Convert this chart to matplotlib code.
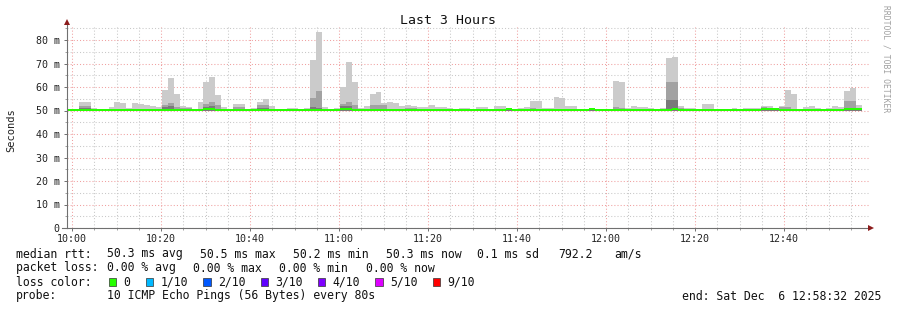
import numpy as np
import matplotlib
matplotlib.use("Agg")
import matplotlib.pyplot as plt
from matplotlib.patches import Rectangle
from matplotlib.lines import Line2D

# ---------------- data ----------------
step_len_min = 80 / 60.0          # 80 s probe interval
first_step_min = -1.12            # first step start, minutes relative to 10:00

ping_max = [
    50.6, 50.6, 53.6, 53.6, 51.1, 50.6, 50.6, 51.5, 53.6, 53.2,
    51.1, 53.2, 52.8, 52.3, 51.9, 51.5, 58.7, 63.8, 57.0, 51.9,
    51.5, 50.8, 53.6, 62.1, 64.3, 56.6, 51.5, 50.6, 52.8, 52.8,
    50.6, 51.1, 53.6, 54.9, 51.9, 50.6, 50.6, 51.1, 51.1, 50.6,
    51.1, 71.5, 83.4, 51.5, 50.6, 51.1, 60.0, 70.6, 62.1, 51.1,
    51.9, 57.0, 57.9, 53.2, 53.6, 53.2, 51.9, 52.3, 51.9, 51.5,
    51.5, 52.3, 51.5, 51.5, 51.1, 50.6, 51.1, 51.1, 50.6, 51.5,
    51.5, 50.6, 51.9, 51.9, 50.8, 50.6, 51.1, 51.5, 54.0, 54.0,
    51.1, 51.1, 55.7, 55.3, 51.9, 51.9, 50.8, 50.8, 50.8, 50.6,
    50.6, 50.6, 62.6, 62.1, 51.1, 51.9, 51.5, 51.5, 51.1, 50.6,
    51.1, 72.3, 72.8, 51.9, 51.1, 51.1, 50.6, 52.8, 52.8, 50.6,
    50.6, 50.6, 51.1, 50.6, 51.1, 51.1, 51.1, 51.9, 51.9, 50.8,
    51.9, 58.7, 57.0, 50.6, 51.5, 51.9, 51.1, 50.6, 51.1, 51.9,
    51.5, 58.3, 59.6, 52.3,
]

ping_mid = [
    50.4, 50.4, 51.9, 51.9, 50.4, 50.4, 50.4, 50.4, 50.4, 50.4,
    50.4, 50.4, 50.4, 50.4, 50.4, 50.4, 52.3, 53.2, 51.5, 51.1,
    51.1, 50.4, 50.4, 52.8, 53.6, 52.3, 50.4, 50.4, 51.5, 51.5,
    50.4, 50.4, 52.3, 52.3, 50.4, 50.4, 50.4, 50.4, 50.4, 50.4,
    50.4, 55.3, 58.3, 50.4, 50.4, 50.4, 52.8, 53.6, 52.3, 50.4,
    50.4, 52.3, 52.3, 52.3, 50.4, 50.4, 50.4, 51.1, 51.1, 50.4,
    50.4, 50.4, 50.4, 50.4, 50.4, 50.4, 50.4, 50.4, 50.4, 50.4,
    50.4, 50.4, 50.4, 50.4, 50.4, 50.4, 50.4, 50.4, 51.1, 50.4,
    50.4, 50.4, 50.4, 50.4, 50.4, 50.4, 50.4, 50.4, 50.4, 50.4,
    50.4, 50.4, 51.5, 51.1, 50.4, 50.4, 50.4, 50.4, 50.4, 50.4,
    50.4, 62.1, 62.1, 51.1, 50.4, 50.4, 50.4, 50.4, 50.4, 50.4,
    50.4, 50.4, 50.4, 50.4, 50.4, 50.4, 50.4, 51.5, 50.4, 50.4,
    51.5, 51.5, 50.4, 50.4, 50.4, 50.4, 50.4, 50.4, 50.4, 50.4,
    50.4, 54.0, 54.0, 51.1,
]

ping_dark = [
    50.4, 50.4, 51.1, 51.1, 50.4, 50.4, 50.4, 50.4, 50.4, 50.4,
    50.4, 50.4, 50.4, 50.4, 50.4, 50.4, 51.5, 51.9, 50.4, 50.4,
    50.4, 50.4, 50.4, 51.5, 51.9, 50.4, 50.4, 50.4, 50.4, 50.4,
    50.4, 50.4, 51.1, 51.1, 50.4, 50.4, 50.4, 50.4, 50.4, 50.4,
    50.4, 51.4, 51.1, 50.4, 50.4, 50.4, 51.9, 51.9, 50.4, 50.4,
    50.4, 50.4, 50.4, 50.4, 50.4, 50.4, 50.4, 50.4, 50.4, 50.4,
    50.4, 50.4, 50.4, 50.4, 50.4, 50.4, 50.4, 50.4, 50.4, 50.4,
    50.4, 50.4, 50.4, 50.4, 50.4, 50.4, 50.4, 50.4, 50.4, 50.4,
    50.4, 50.4, 50.4, 50.4, 50.4, 50.4, 50.4, 50.4, 50.4, 50.4,
    50.4, 50.4, 50.4, 50.4, 50.4, 50.4, 50.4, 50.4, 50.4, 50.4,
    50.4, 54.5, 54.5, 50.4, 50.4, 50.4, 50.4, 50.4, 50.4, 50.4,
    50.4, 50.4, 50.4, 50.4, 50.4, 50.4, 50.4, 51.1, 50.4, 50.4,
    50.4, 50.4, 50.4, 50.4, 50.4, 50.4, 50.4, 50.4, 50.4, 50.4,
    50.4, 51.1, 51.1, 50.4,
]

median_rtt = [
    50.25, 50.25, 50.25, 50.25, 50.25, 50.25, 50.25, 50.25, 50.25, 50.25,
    50.25, 50.25, 50.25, 50.25, 50.25, 50.25, 50.25, 50.25, 50.25, 50.25,
    50.25, 50.25, 50.25, 50.6, 50.6, 50.25, 50.25, 50.25, 50.25, 50.25,
    50.25, 50.25, 50.25, 50.25, 50.25, 50.25, 50.25, 50.25, 50.25, 50.25,
    50.25, 50.25, 50.25, 50.25, 50.25, 50.25, 50.6, 50.6, 50.25, 50.25,
    50.25, 50.25, 50.25, 50.25, 50.25, 50.25, 50.25, 50.25, 50.25, 50.25,
    50.25, 50.25, 50.25, 50.25, 50.25, 50.25, 50.25, 50.25, 50.25, 50.25,
    50.25, 50.25, 50.25, 50.25, 50.6, 50.25, 50.25, 50.25, 50.25, 50.25,
    50.25, 50.25, 50.25, 50.25, 50.25, 50.25, 50.25, 50.25, 50.6, 50.25,
    50.25, 50.25, 50.25, 50.25, 50.25, 50.25, 50.25, 50.25, 50.25, 50.25,
    50.25, 50.25, 50.6, 50.25, 50.25, 50.25, 50.25, 50.25, 50.25, 50.25,
    50.25, 50.25, 50.25, 50.25, 50.25, 50.25, 50.25, 50.6, 50.6, 50.6,
    50.25, 50.25, 50.25, 50.25, 50.25, 50.25, 50.25, 50.25, 50.25, 50.25,
    50.25, 50.6, 50.6, 50.6,
]

ping_min_ms = 50.0   # lower edge of smoke (hidden under median band)

x_tick_minutes = [0, 20, 40, 60, 80, 100, 120, 140, 160]
x_tick_labels = ["10:00", "10:20", "10:40", "11:00", "11:20", "11:40", "12:00", "12:20", "12:40"]
y_tick_values = [0, 10, 20, 30, 40, 50, 60, 70, 80]
y_tick_labels = ["0", "10 m", "20 m", "30 m", "40 m", "50 m", "60 m", "70 m", "80 m"]

loss_labels = ["0", "1/10", "2/10", "3/10", "4/10", "5/10", "9/10"]
loss_colors = ["#26ff00", "#00b8ff", "#0059ff", "#5e00ff", "#7e00ff", "#dd00ff", "#ff0000"]

# ---------------- figure ----------------
W, H = 897, 310
MONO = "DejaVu Sans Mono"
fig = plt.figure(figsize=(W / 100, H / 100), dpi=100)
fig.patch.set_facecolor("white")

def fx(x):
    return x / W

def fy(y):
    return 1 - y / H

ax_l, ax_r, ax_t, ax_b = 67, 869, 25, 228
ax = fig.add_axes([fx(ax_l), fy(ax_b), (ax_r - ax_l) / W, (ax_b - ax_t) / H])
ax.set_facecolor("white")

px_per_min = 4.45
ax.set_xlim((ax_l - 72) / px_per_min, (ax_r - 72) / px_per_min)
ax.set_ylim(0, (ax_b - ax_t) / 2.35)

n = len(ping_max)
lefts = first_step_min + step_len_min * np.arange(n)
pmax = np.array(ping_max)
pmid = np.array(ping_mid)
pdark = np.array(ping_dark)
med = np.array(median_rtt)

common = dict(width=step_len_min, align="edge", linewidth=0, zorder=2)
ax.bar(lefts, pmax - ping_min_ms, bottom=ping_min_ms, color="#cbcbcb", **common)
ax.bar(lefts, pmid - ping_min_ms, bottom=ping_min_ms, color="#a2a2a2", **common)
ax.bar(lefts, pdark - ping_min_ms, bottom=ping_min_ms, color="#7a7a7a", **common)
band = 0.58
ax.bar(lefts, 2 * band, bottom=med - band, color=loss_colors[0], width=step_len_min,
       align="edge", linewidth=0, zorder=3)

# grid
ax.set_axisbelow(True)
ax.set_xticks(x_tick_minutes)
ax.set_xticklabels(x_tick_labels)
ax.set_xticks(np.arange(-0, 180, 5), minor=True)
ax.set_yticks(y_tick_values)
ax.set_yticklabels(y_tick_labels)
ax.set_yticks(np.arange(5, 90, 10), minor=True)
ax.grid(which="minor", color="#c8c8c8", linestyle=(0, (1, 2)), linewidth=0.75, zorder=0)
ax.grid(which="major", color="#f0a0a0", linestyle=(0, (1, 2)), linewidth=0.75, zorder=0)

for s in ["top", "right"]:
    ax.spines[s].set_visible(False)
for s in ["left", "bottom"]:
    ax.spines[s].set_color("#707070")
    ax.spines[s].set_linewidth(0.8)
    ax.spines[s].set_zorder(5)

ax.tick_params(which="major", length=2.2, width=0.7, color="#707070",
               labelsize=7.2, labelcolor="#222222")
ax.tick_params(which="minor", length=1.4, width=0.6, color="#909090")
ax.tick_params(axis="y", pad=3.0)
ax.tick_params(axis="x", pad=2.0)
for lab in ax.get_xticklabels() + ax.get_yticklabels():
    lab.set_family(MONO)

# axis overhang + arrows
fig.add_artist(Line2D([fx(62), fx(ax_l)], [fy(ax_b), fy(ax_b)], color="#707070", lw=0.8))
fig.add_artist(Line2D([fx(67)], [fy(22)], marker="^", markersize=4.5, color="#8c1c1c",
                      markeredgewidth=0))
fig.add_artist(Line2D([fx(871)], [fy(228)], marker=">", markersize=4.5, color="#8c1c1c",
                      markeredgewidth=0))

# titles
fig.text(fx(448), fy(20), "Last 3 Hours", ha="center", va="center", family=MONO, size=9.5,
         color="#111111")
fig.text(fx(11), fy(130), "Seconds", ha="center", va="center", rotation=90, family=MONO,
         size=7.5, color="#222222")
fig.text(fx(886), fy(59), "RRDTOOL / TOBI OETIKER", ha="center", va="center", rotation=270,
         family=MONO, size=5.8, color="#a0a0a0")

# legend lines
LS = 8.3
def t(x, y, s, **kw):
    fig.text(fx(x), fy(y), s, ha=kw.pop("ha", "left"), va="center", family=MONO, size=LS,
             color="#111111", **kw)

y1, y2, y3, y4 = 254, 268, 282, 296
t(16, y1, "median rtt:")
t(107, y1, "50.3 ms avg")
t(200, y1, "50.5 ms max")
t(293, y1, "50.2 ms min")
t(386, y1, "50.3 ms now")
t(477, y1, "0.1 ms sd")
t(558, y1, "792.2")
t(614, y1, "am/s")

t(16, y2, "packet loss:")
t(107, y2, "0.00 % avg")
t(193, y2, "0.00 % max")
t(279, y2, "0.00 % min")
t(366, y2, "0.00 % now")

t(16, y3, "loss color:")
box_x = [108.7, 146, 203.3, 260.7, 318, 375.3, 432.7]
for bx, lab, col in zip(box_x, loss_labels, loss_colors):
    fig.add_artist(Rectangle((fx(bx), fy(y3 + 3.7)), 7.3 / W, 7.3 / H, transform=fig.transFigure,
                             facecolor=col, edgecolor="#333333", linewidth=0.5))
    t(bx + 14.5, y3, lab)

t(16, y4, "probe:")
t(107, y4, "10 ICMP Echo Pings (56 Bytes) every 80s")
t(881, y4, "end: Sat Dec  6 12:58:32 2025", ha="right")

fig.savefig("out.png", dpi=100, facecolor="white")
